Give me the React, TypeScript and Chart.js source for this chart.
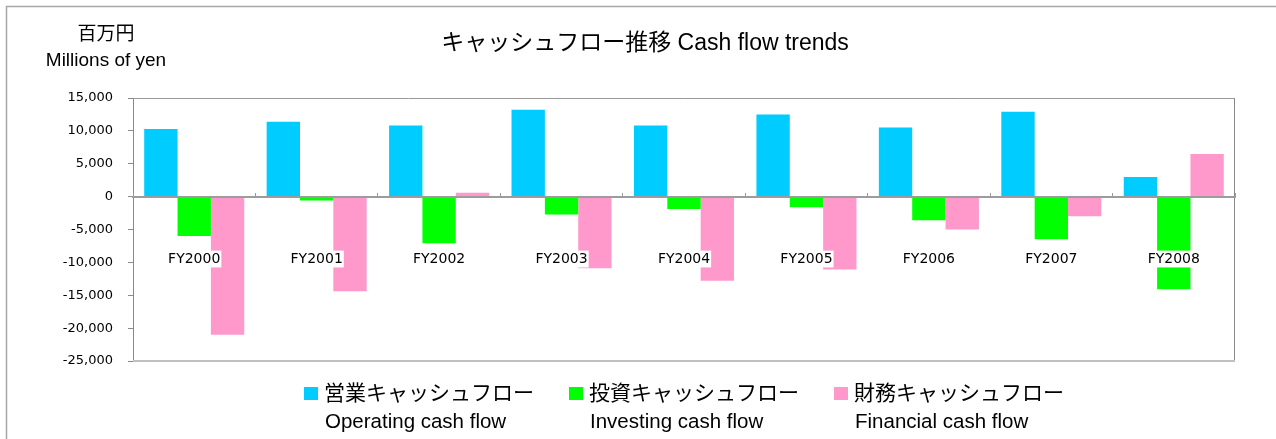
import React, { useEffect, useRef } from "react";
import { Chart, registerables } from "chart.js";

Chart.register(...registerables);

// ---- data ----
const categories = ["FY2000", "FY2001", "FY2002", "FY2003", "FY2004", "FY2005", "FY2006", "FY2007", "FY2008"];
const operatingCF = [10300, 11400, 10800, 13200, 10800, 12500, 10500, 12900, 3000];
const investingCF = [-6000, -600, -7100, -2700, -1900, -1600, -3600, -6500, -14100];
const financialCF = [-21000, -14400, 600, -10900, -12800, -11100, -5000, -3000, 6500];
const seriesJa = ["営業キャッシュフロー", "投資キャッシュフロー", "財務キャッシュフロー"];
const seriesEn = ["Operating cash flow", "Investing cash flow", "Financial cash flow"];
const seriesColors = ["#00CCFF", "#00FF00", "#FF99CC"];
const yMin = -25000;
const yMax = 15000;
const yStep = 5000;
const titleText = "キャッシュフロー推移 Cash flow trends";
const unitJa = "百万円";
const unitEn = "Millions of yen";

const textFont = "'Liberation Sans', Arial, 'Noto Sans CJK JP', sans-serif";
const axisFont = "'DejaVu Sans', 'Liberation Sans', sans-serif";

export default function App() {
  const ref = useRef<HTMLCanvasElement>(null);

  useEffect(() => {
    const canvas = ref.current;
    if (!canvas) return;

    const decor = {
      id: "decor",
      beforeDraw(chart: any) {
        const ctx = chart.ctx;
        ctx.save();
        ctx.fillStyle = "#ffffff";
        ctx.fillRect(0, 0, chart.width, chart.height);
        // outer frame
        ctx.strokeStyle = "#a8a8a8";
        ctx.lineWidth = 1.5;
        ctx.beginPath();
        ctx.moveTo(chart.width, 6.5);
        ctx.lineTo(6.5, 6.5);
        ctx.lineTo(6.5, chart.height);
        ctx.stroke();
        ctx.restore();
      },
      beforeDatasetsDraw(chart: any) {
        const ctx = chart.ctx;
        const a = chart.chartArea;
        ctx.save();
        ctx.lineWidth = 1;
        ctx.strokeStyle = "#999999";
        ctx.beginPath();
        ctx.moveTo(a.left, a.top + 0.5);
        ctx.lineTo(a.right - 0.5, a.top + 0.5);
        ctx.stroke();
        ctx.strokeStyle = "#888888";
        ctx.beginPath();
        ctx.moveTo(a.right - 0.5, a.top);
        ctx.lineTo(a.right - 0.5, a.bottom);
        ctx.stroke();
        ctx.strokeStyle = "#c0c0c0";
        ctx.lineWidth = 2;
        ctx.beginPath();
        ctx.moveTo(a.left, a.bottom);
        ctx.lineTo(a.right, a.bottom);
        ctx.stroke();
        ctx.restore();
      },
      afterDraw(chart: any) {
        const ctx = chart.ctx;
        const a = chart.chartArea;
        ctx.save();
        ctx.fillStyle = "#000000";
        ctx.textAlign = "center";
        ctx.textBaseline = "middle";
        // title
        ctx.font = `23px ${textFont}`;
        ctx.fillText(titleText, 645, 44);
        // unit label
        ctx.font = `19px ${textFont}`;
        ctx.fillText(unitJa, 106, 35);
        ctx.textBaseline = "alphabetic";
        ctx.fillText(unitEn, 106, 66);
        // legend
        const n = seriesJa.length;
        const step = 265;
        const boxW = 14;
        const boxH = 13;
        const gap = 6;
        ctx.font = `21px ${textFont}`;
        const lastW = Math.max(ctx.measureText(seriesJa[n - 1]).width, ctx.measureText(seriesEn[n - 1]).width);
        const total = step * (n - 1) + boxW + gap + lastW;
        const x0 = (a.left + a.right) / 2 - total / 2;
        ctx.textAlign = "left";
        for (let i = 0; i < n; i++) {
          const x = x0 + i * step;
          ctx.fillStyle = chart.data.datasets[i].backgroundColor;
          ctx.fillRect(x, 387, boxW, boxH);
          ctx.fillStyle = "#000000";
          ctx.textBaseline = "middle";
          ctx.font = `21px ${textFont}`;
          ctx.fillText(seriesJa[i], x + boxW + gap, 394);
          ctx.textBaseline = "alphabetic";
          ctx.font = `20.5px ${textFont}`;
          ctx.fillText(seriesEn[i], x + boxW + gap + 1, 428);
        }
        ctx.restore();
      },
    };

    const chart = new Chart(canvas, {
      type: "bar",
      data: {
        labels: categories,
        datasets: [operatingCF, investingCF, financialCF].map((d, i) => ({
          label: seriesJa[i],
          data: d,
          backgroundColor: seriesColors[i],
          borderWidth: 0,
          categoryPercentage: 0.817,
          barPercentage: 1,
        })),
      },
      options: {
        responsive: false,
        animation: false,
        layout: { padding: { top: 98, bottom: 78, left: 0, right: 41 } },
        plugins: {
          legend: { display: false },
          title: { display: false },
          tooltip: { enabled: false },
        },
        scales: {
          x: {
            position: { y: 0 },
            grid: {
              offset: true,
              drawOnChartArea: false,
              drawTicks: true,
              tickLength: -5,
              color: "#999999",
              z: 1,
            },
            border: { display: true, color: "#9c9c9c", width: 2, z: 1 },
            ticks: {
              z: 2,
              padding: 59,
              color: "#000000",
              font: { family: axisFont, size: 14 },
              showLabelBackdrop: true,
              backdropColor: "#ffffff",
              backdropPadding: { top: 0, bottom: 0, left: 1, right: 1 },
              maxRotation: 0,
              autoSkip: false,
            },
          },
          y: {
            min: yMin,
            max: yMax,
            afterFit(s: any) {
              s.width = 133;
            },
            grid: { drawOnChartArea: false, drawTicks: true, tickLength: 5, color: "#888888" },
            border: { display: true, color: "#888888", width: 1 },
            ticks: {
              stepSize: yStep,
              padding: 15,
              color: "#000000",
              font: { family: axisFont, size: 13 },
              callback: (v: any) => Number(v).toLocaleString("en-US"),
            },
          },
        },
      } as any,
      plugins: [decor],
    });

    return () => chart.destroy();
  }, []);

  return (
    <canvas
      ref={ref}
      width={1276}
      height={439}
      style={{ position: "fixed", left: 0, top: 0, display: "block" }}
    />
  );
}
